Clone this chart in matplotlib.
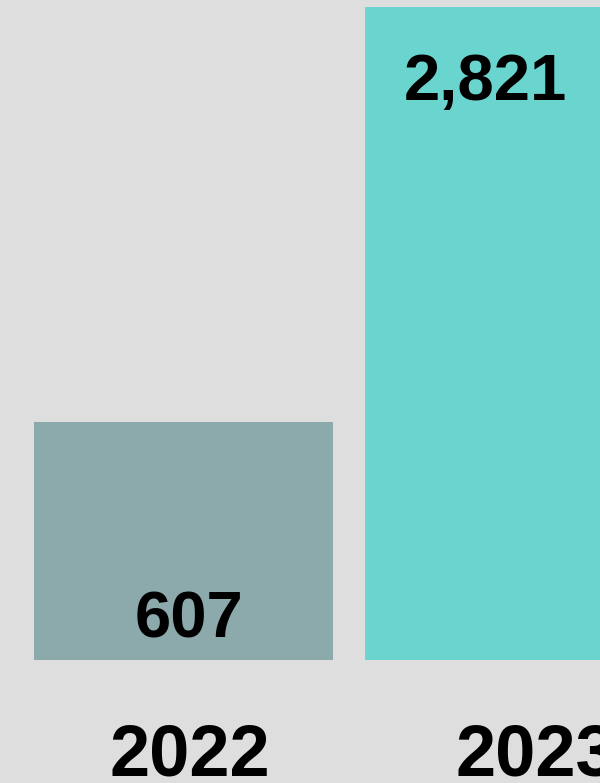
import matplotlib.pyplot as plt
import numpy as np

plt.rcParams['font.family'] = ['Liberation Sans', 'DejaVu Sans']

years = ['2022', '2023']
values = [607, 2821]
colors = ['#8ca9ac', '#6ad4cf']
bg = '#dedede'

fig = plt.figure(figsize=(6, 7.83), dpi=100, facecolor=bg)
# axes runs from the bottom edge up to 7px below the top
ax = fig.add_axes([0, 0, 1, 776 / 783])
ax.set_facecolor(bg)

x = np.arange(len(years))
ax.bar(x, values, width=0.903, color=colors)

# 607 -> 238px tall, zero line at 660px from top; 2023 bar gets clipped
px_per_unit = 238 / 607
ax.set_ylim(-(783 - 660) / px_per_unit, 653 / px_per_unit)
ax.set_xlim(-0.5544, -0.5544 + 600 / 331)
ymax = ax.get_ylim()[1]

# value labels: small one sits at bar base, big one near top of visible bar
ax.text(x[0] + 0.018, 23 / px_per_unit, f'{values[0]:,}', ha='center', va='baseline',
        fontsize=47, fontweight='bold')
ax.text(x[1] - 0.087, ymax - 93 / px_per_unit, f'{values[1]:,}', ha='center', va='baseline',
        fontsize=47, fontweight='bold')

for i, yr in enumerate(years):
    ax.text(x[i] + 0.018 + 0.045 * i, -(776 - 660) / px_per_unit, yr, ha='center',
            va='baseline', fontsize=52, fontweight='bold')

ax.axis('off')
fig.savefig('out.png', dpi=100, facecolor=bg)
